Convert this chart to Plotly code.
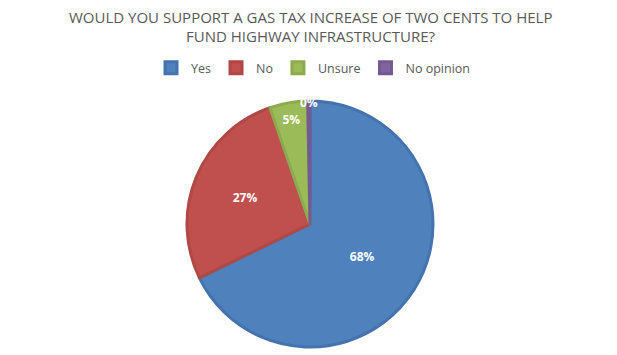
import plotly.graph_objects as go

categories = ["Yes", "No", "Unsure", "No opinion"]
values = [68, 27, 5, 0.3]
colors = ["#4F81BD", "#C0504D", "#9BBB59", "#8064A2"]
border_colors = ["#4473AE", "#B04845", "#8DAA50", "#735A93"]
title_lines = ["WOULD YOU SUPPORT A GAS TAX INCREASE OF TWO CENTS TO HELP",
               "FUND HIGHWAY INFRASTRUCTURE?"]

W, H = 617, 355
OFF = 8  # browser body margin offset
cx, cy, R = 310 - OFF, 224 - OFF, 123

fig = go.Figure(go.Pie(
    labels=categories,
    values=values,
    sort=False,
    direction="clockwise",
    rotation=0,
    marker=dict(colors=colors, line=dict(color=border_colors, width=3)),
    texttemplate="<b>%{percent:.0%}</b>",
    textposition="inside",
    insidetextorientation="horizontal",
    textfont=dict(color="white", size=12, family="Open Sans"),
    hoverinfo="label+percent",
    domain=dict(x=[(cx - R) / W, (cx + R) / W], y=[1 - (cy + R) / H, 1 - (cy - R) / H]),
))

title_y = [17, 36]
fig.update_layout(
    width=W, height=H,
    margin=dict(l=0, r=0, t=0, b=0),
    paper_bgcolor="white",
    font=dict(family="Open Sans", color="#595959"),
    uniformtext=dict(minsize=12, mode="show"),
    annotations=[dict(
        text=t, xref="paper", yref="paper", x=(310 - OFF) / W, xanchor="center",
        y=1 - (ty - OFF) / H, yanchor="middle",
        showarrow=False, font=dict(size=15, color="#595959", family="Open Sans"),
    ) for t, ty in zip(title_lines, title_y)],
    legend=dict(
        orientation="h", x=(313 - OFF) / W, xanchor="center", y=1 - (68 - OFF) / H, yanchor="middle",
        font=dict(size=12.5, color="#595959"), traceorder="normal", itemwidth=30,
    ),
)

fig.write_html("out.html")
